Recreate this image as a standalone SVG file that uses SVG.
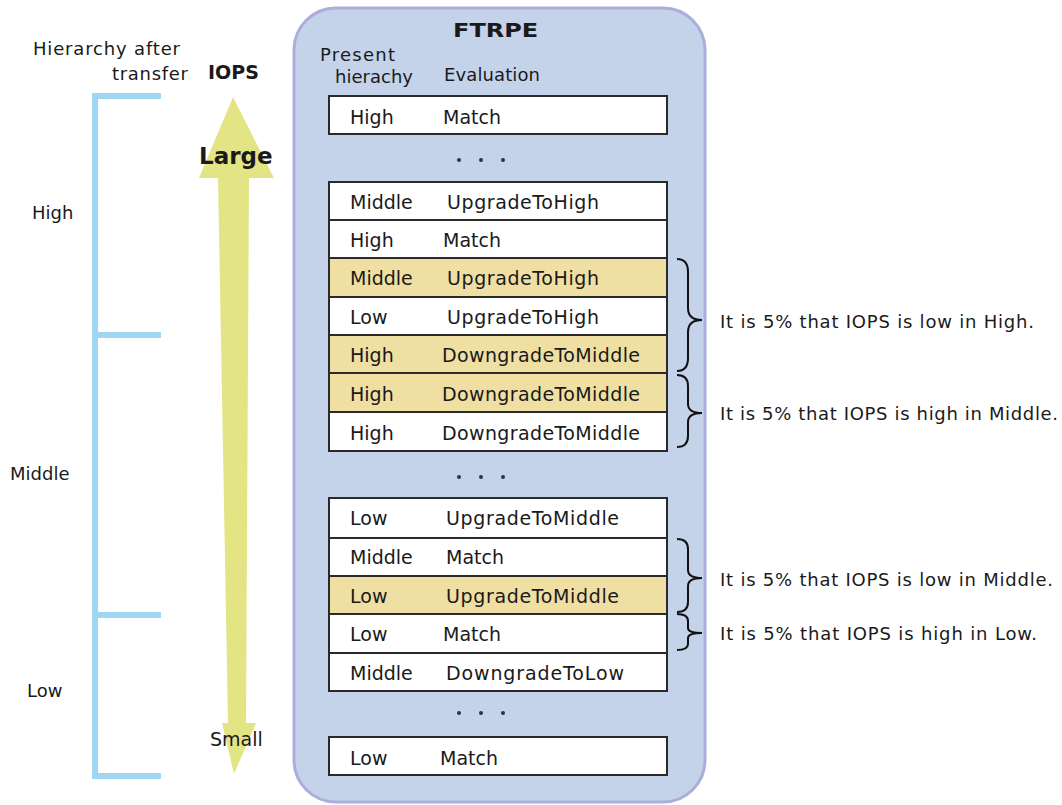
<svg xmlns="http://www.w3.org/2000/svg" width="1062" height="805" viewBox="0 0 1062 805">
<style>
text{font-family:"DejaVu Sans","Liberation Sans",sans-serif;font-size:19px;fill:#1a1a1a}
.b{font-weight:bold}
.row{fill:#fff;stroke:#2a2a2a;stroke-width:2}
.hl{fill:#f0dfa2;stroke:#2a2a2a;stroke-width:2}
.br{fill:none;stroke:#111;stroke-width:2}
.tier{fill:none;stroke:#9fd6f2;stroke-width:6}
.dots{fill:#333}
.s{font-size:18px}
</style>
<rect width="1062" height="805" fill="#fff"/>
<!-- hierarchy bracket -->
<g id="hierarchy">
<path class="tier" d="M161 96 H95 V776 H161 M95 335 H161 M95 615 H161"/>
<text x="33" y="55" class="s" textLength="147">Hierarchy after</text>
<text x="112" y="80" class="s" textLength="76">transfer</text>
<text x="32" y="219" class="s">High</text>
<text x="10" y="480" class="s">Middle</text>
<text x="27" y="697" class="s">Low</text>
</g>
<!-- IOPS arrow -->
<g id="iops">
<polygon fill="#e3e585" points="233,97 274,178 249,178 246,723 256,723 234,774 222,723 228,723 218,178 199,178"/>
<text x="208" y="79" class="b">IOPS</text>
<text x="199" y="164" class="b" style="font-size:23px">Large</text>
<text x="210" y="746">Small</text>
</g>
<!-- FTRPE panel -->
<g id="ftrpe">
<rect x="294" y="8" width="411" height="794" rx="42" fill="#c4d3ea" stroke="#abaedb" stroke-width="3"/>
<text x="0" y="0" class="b" style="font-size:20px" transform="translate(453 37) scale(1.2 1)">FTRPE</text>
<text x="320" y="61" class="s" textLength="75">Present</text>
<text x="335" y="83" class="s" textLength="78">hierachy</text>
<text x="444" y="81" class="s" textLength="96">Evaluation</text>
<g class="dots">
<circle cx="459" cy="160" r="2"/><circle cx="481" cy="160" r="2"/><circle cx="503" cy="160" r="2"/>
<circle cx="459" cy="477" r="2"/><circle cx="481" cy="477" r="2"/><circle cx="503" cy="477" r="2"/>
<circle cx="459" cy="713" r="2"/><circle cx="481" cy="713" r="2"/><circle cx="503" cy="713" r="2"/>
</g>
</g>
<g id="r1"><rect class="row" x="329" y="96" width="338" height="38"/><text x="350" y="124">High</text><text x="443" y="124">Match</text></g>
<g id="r2"><rect class="row" x="329" y="182" width="338" height="38"/><text x="350" y="209">Middle</text><text x="447" y="209" textLength="152">UpgradeToHigh</text></g>
<g id="r3"><rect class="row" x="329" y="220" width="338" height="38"/><text x="350" y="247">High</text><text x="443" y="247">Match</text></g>
<g id="r4"><rect class="hl" x="329" y="258" width="338" height="39"/><text x="350" y="285">Middle</text><text x="447" y="285" textLength="152">UpgradeToHigh</text></g>
<g id="r5"><rect class="row" x="329" y="297" width="338" height="38"/><text x="350" y="324">Low</text><text x="447" y="324" textLength="152">UpgradeToHigh</text></g>
<g id="r6"><rect class="hl" x="329" y="335" width="338" height="38"/><text x="350" y="362">High</text><text x="442" y="362" textLength="198">DowngradeToMiddle</text></g>
<g id="r7"><rect class="hl" x="329" y="373" width="338" height="39"/><text x="350" y="401">High</text><text x="442" y="401" textLength="198">DowngradeToMiddle</text></g>
<g id="r8"><rect class="row" x="329" y="412" width="338" height="39"/><text x="350" y="440">High</text><text x="442" y="440" textLength="198">DowngradeToMiddle</text></g>
<g id="r9"><rect class="row" x="329" y="498" width="338" height="40"/><text x="350" y="525">Low</text><text x="446" y="525" textLength="173">UpgradeToMiddle</text></g>
<g id="r10"><rect class="row" x="329" y="538" width="338" height="38"/><text x="350" y="564">Middle</text><text x="446" y="564">Match</text></g>
<g id="r11"><rect class="hl" x="329" y="576" width="338" height="38"/><text x="350" y="603">Low</text><text x="446" y="603" textLength="173">UpgradeToMiddle</text></g>
<g id="r12"><rect class="row" x="329" y="614" width="338" height="39"/><text x="350" y="641">Low</text><text x="443" y="641">Match</text></g>
<g id="r13"><rect class="row" x="329" y="653" width="338" height="38"/><text x="350" y="680">Middle</text><text x="446" y="680" textLength="178">DowngradeToLow</text></g>
<g id="r14"><rect class="row" x="329" y="737" width="338" height="38"/><text x="350" y="765">Low</text><text x="440" y="765">Match</text></g>
<!-- braces -->
<g id="connectors">
<path class="br" d="M677 259 Q688 259 688 272 L688 308 Q688 320 702 320 Q688 320 688 332 L688 358 Q688 371 677 371"/>
<path class="br" d="M677 375 Q688 375 688 386 L688 404 Q688 413 702 413 Q688 413 688 422 L688 436 Q688 447 677 447"/>
<path class="br" d="M677 539 Q688 539 688 549 L688 570 Q688 578 702 578 Q688 578 688 586 L688 602 Q688 612 677 612"/>
<path class="br" d="M677 614 Q688 614 688 621 L688 628 Q688 633 702 633 Q688 633 688 638 L688 644 Q688 650 677 650"/>
</g>
<g id="notes">
<text x="720" y="328" class="s" textLength="314">It is 5% that IOPS is low in High.</text>
<text x="720" y="420" class="s" textLength="338">It is 5% that IOPS is high in Middle.</text>
<text x="720" y="586" class="s" textLength="333">It is 5% that IOPS is low in Middle.</text>
<text x="720" y="640" class="s" textLength="317">It is 5% that IOPS is high in Low.</text>
</g>
</svg>
